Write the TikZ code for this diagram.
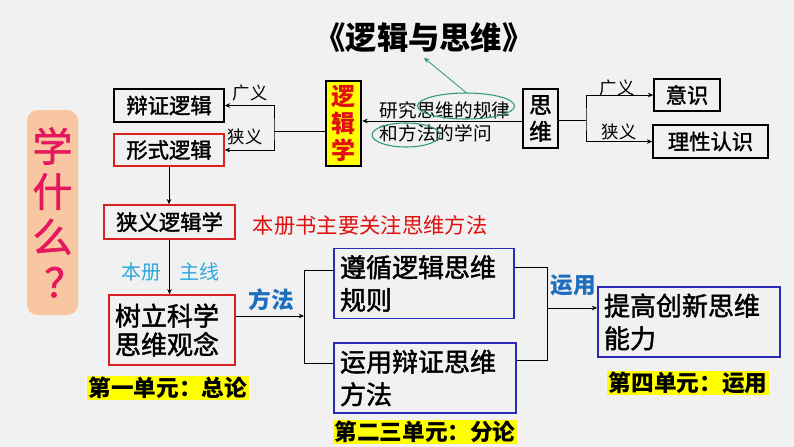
\documentclass[tikz,border=0pt]{standalone}
\usepackage{fontspec}
\usepackage{tikz}
\usetikzlibrary{arrows.meta,shapes.geometric}
\newfontfamily\cjk{Noto Sans CJK SC}
\newfontfamily\cjkm{Noto Sans CJK SC}[FakeBold=1.6]
\newcommand{\fsz}[2]{\fontsize{#1}{#2}\selectfont}
\definecolor{bgc}{HTML}{F1F1F1}
\definecolor{redb}{HTML}{D92323}
\definecolor{blueb}{HTML}{2B2BB5}
\definecolor{hilite}{HTML}{FFFF00}
\definecolor{peach}{HTML}{F8C6A0}
\definecolor{pinkt}{HTML}{E5175E}
\definecolor{skyt}{HTML}{2FA9DD}
\definecolor{bluet}{HTML}{1E6EC0}
\definecolor{ovalg}{HTML}{2E9A6A}
\definecolor{redt}{HTML}{E10F0F}
\tikzset{
  box/.style={draw, line width=1.2pt, inner sep=0pt, font=\cjkm\fsz{16}{19}},
  lbl/.style={font=\cjk\fsz{13}{15}},
  ln/.style={line width=0.6pt},
  arr/.style={ln, -{Stealth[length=4pt,width=3.5pt]}},
  dbl/.style={ln, {Stealth[length=4pt,width=3.5pt]}-{Stealth[length=4pt,width=3.5pt]}},
  hl/.style={fill=hilite, inner xsep=1pt, inner ysep=1pt, font=\cjk\bfseries\fsz{17}{20}}}

\begin{document}
\begin{tikzpicture}[x=0.75pt,y=-0.75pt]
  \fill[bgc] (0,0) rectangle (794,447);
  \useasboundingbox (0,0) rectangle (794,447);
  % title and side tag
  \node[font=\cjk\bfseries\fsz{23.5}{26}] (title) at (424,38) {《逻辑与思维》};
  \node[fill=peach, rounded corners=8pt, minimum width=51*0.75pt, minimum height=205*0.75pt,
    inner sep=0pt, align=center, text=pinkt, font=\cjkm\fsz{30}{34}] (xue) at (52.5,212.5)
    {学\\什\\么\\\hspace*{0.3em}？\hspace*{-0.3em}};
  % one-line boxes
  \foreach \nm/\x/\y/\w/\h/\c/\txt in {%
    bianzheng/169/105.5/110/33/black/辩证逻辑, xingshi/169/150/110/32/redb/形式逻辑,
    yishi/687/95/66/32/black/意识, lixing/710.5/141.5/115/33/black/理性认识,
    xiayi/169.5/222/131/34/redb/狭义逻辑学}
    \node[box, draw=\c, minimum width=\w*0.75pt, minimum height=\h*0.75pt] (\nm) at (\x,\y) {\txt};
  \node[box, fill=hilite, line width=2pt, minimum width=26.25pt, minimum height=63.75pt, align=center,
    text=redt, font=\cjk\bfseries\fsz{18}{20}] (luojixue) at (343.5,123.5) {逻\\辑\\学};
  \node[box, minimum width=26.25pt, minimum height=44.25pt, align=center,
    font=\cjkm\fsz{17}{20}] (siwei) at (540.5,118.5) {思\\维};
  % definition text
  \node[anchor=west, font=\cjk\fsz{14}{16}] (defa) at (375,110) {研究思维的规律};
  \node[anchor=west, font=\cjk\fsz{14}{16}] (defb) at (375,133) {和方法的学问};
  \node[draw=ovalg, line width=0.8pt, ellipse, minimum width=72.75pt, minimum height=19.5pt,
    inner sep=0pt] (ova) at (466,106) {};
  \node[draw=ovalg, line width=0.8pt, ellipse, minimum width=51pt, minimum height=18pt,
    inner sep=0pt] (ovb) at (406,135) {};
  \draw[arr, ovalg] (ova.north) -- (title.south);
  % broad / narrow
  \node[lbl] (gyl) at (250,93) {广义};
  \node[lbl] (xyl) at (245,137) {狭义};
  \node[lbl] (gyr) at (617,88) {广义};
  \node[lbl] (xyr) at (619,132) {狭义};
  \coordinate (ljfork) at (274,131);
  \coordinate (defl) at (450,121);
  \coordinate (swfork) at (586,120);
  \draw[ln] (luojixue.west |- ljfork) -- (ljfork);
  \draw[dbl] (bianzheng.east) -| (ljfork) |- (xingshi.east);
  \draw[arr] (siwei.west |- defl) -- (luojixue.east |- defl);
  \draw[ln] (siwei.east |- swfork) -- (swfork);
  \draw[dbl] (yishi.west) -| (swfork) |- (lixing.west);
  % lower part
  \node[anchor=west, text=redt, font=\cjk\fsz{16}{18}] (focus) at (248,225) {本册书主要关注思维方法};
  \node[box, draw=redb, minimum width=94.5pt, minimum height=52.5pt, align=left, text width=85.5pt,
    font=\cjkm\fsz{19.5}{21.5}] (shuli) at (172,330) {树立科学\\思维观念};
  \foreach \nm/\x/\y/\w/\la/\lb in {zunxun/424/283.5/180/遵循逻辑思维/规则,
    yunyong/425/378/182/运用辩证思维/方法, tigao/689/322/182/提高创新思维/能力}
    \node[box, draw=blueb, minimum width=\w*0.75pt, minimum height=52.5pt, align=left,
      text width=\w*0.75pt-9pt, font=\cjkm\fsz{19.5}{24.5}] (\nm) at (\x,\y) {\la\\\lb};
  \node[text=skyt, font=\cjk\fsz{15}{17}] (bence) at (141,272) {本册};
  \node[text=skyt, font=\cjk\fsz{15}{17}] (zhuxian) at (199,272) {主线};
  \node[text=bluet, font=\cjk\bfseries\fsz{17}{20}] (fangfa) at (271,300) {方法};
  \node[text=bluet, font=\cjk\bfseries\fsz{17}{20}] (yylbl) at (573,285) {运用};
  \foreach \nm/\x/\y/\txt in {unit1/168/388/第一单元：总论, unit23/425/432/第二三单元：分论,
    unit4/688/383/第四单元：运用}
    \node[hl] (\nm) at (\x,\y) {\txt};
  \draw[arr] (xingshi.south) -- (xingshi.south |- xiayi.north);
  \draw[arr] (xiayi.south) -- (xiayi.south |- shuli.north);
  \coordinate (mfork) at (304,316);
  \coordinate (mtop) at (304,270);
  \coordinate (mbot) at (304,363);
  \draw[arr] (shuli.east |- mfork) -- (mfork);
  \draw[ln] (zunxun.west |- mtop) -- (mtop) -- (mbot) -- (yunyong.west |- mbot);
  \coordinate (yfork) at (547,308);
  \coordinate (ytop) at (547,267);
  \coordinate (ybot) at (547,360);
  \draw[ln] (zunxun.east |- ytop) -- (ytop) -- (ybot) -- (yunyong.east |- ybot);
  \draw[arr] (yfork) -- (tigao.west |- yfork);
\end{tikzpicture}
\end{document}
